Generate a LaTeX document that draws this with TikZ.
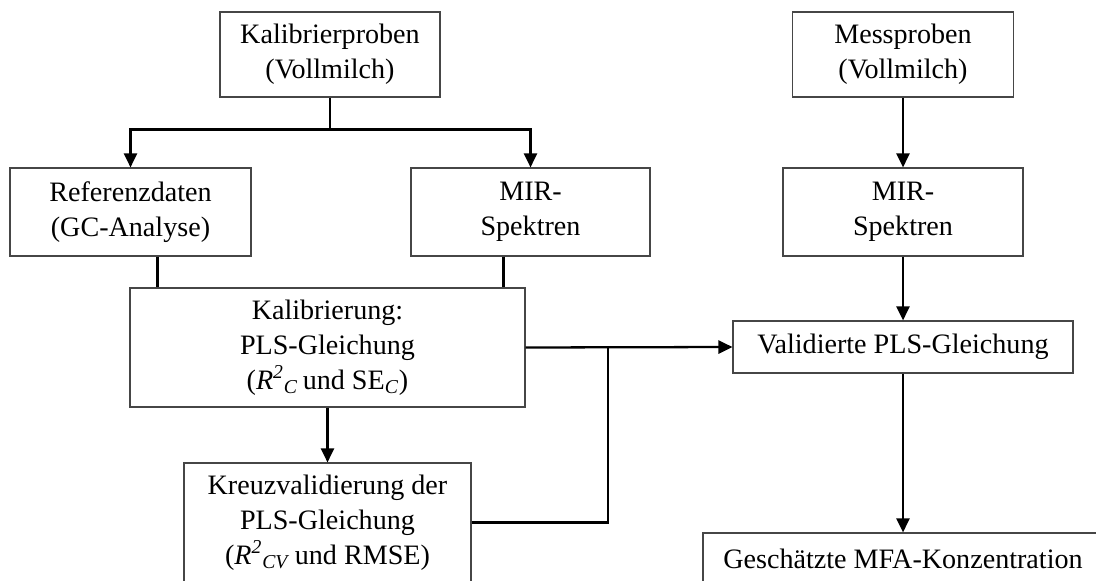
\documentclass[tikz,border=0pt]{standalone}
\usepackage{fontspec}
\setmainfont{Liberation Serif}
\usetikzlibrary{arrows.meta,positioning,calc}
\definecolor{boxGray}{RGB}{70,70,70}

\begin{document}
\begin{tikzpicture}[x=0.02cm,y=-0.02cm,
      box/.style={draw=boxGray,line width=0.7pt,align=center,inner sep=0pt,
        font=\fontsize{16}{20}\selectfont},
      ln/.style={line width=1.3pt},
      arr/.style={ln,-{Triangle[length=8pt,width=7.5pt]}}]
    \useasboundingbox (0,0) rectangle (1096,581);
    % upper row
    \node[box,minimum width=4.4cm,minimum height=1.7cm] (kalib) at (330,54.5)
      {Kalibrierproben\\(Vollmilch)};
    \node[box,minimum width=4.42cm,minimum height=1.7cm] (mess) at (903,54.5)
      {Messproben\\(Vollmilch)};
    \node[box,minimum width=4.82cm,minimum height=1.76cm] (ref) at (130.5,212)
      {Referenzdaten\\(GC-Analyse)};
    \node[box,minimum width=4.78cm,minimum height=1.76cm] (mirA) at (530.5,212)
      {MIR-\\Spektren};
    \node[box,minimum width=4.8cm,minimum height=1.76cm] (mirB) at (903,212)
      {MIR-\\Spektren};
    % lower part
    \node[box,minimum width=7.9cm,minimum height=2.38cm] (kal) at (327.5,347.5)
      {Kalibrierung:\\PLS-Gleichung\\(\textit{R}\textsuperscript{\textit{2}}\textsubscript{\textit{C}}\,und SE\textsubscript{\textit{C}})};
    \node[box,minimum width=5.74cm,minimum height=2.38cm] (kreuz) at (327.5,522.5)
      {Kreuzvalidierung der\\PLS-Gleichung\\(\textit{R}\textsuperscript{\textit{2}}\textsubscript{\textit{CV}}\,und RMSE)};
    \node[box,minimum width=6.8cm,minimum height=1.04cm] (valid) at (903,347)
      {Validierte PLS-Gleichung};
    \node[box,minimum width=8cm,minimum height=1.04cm] (gesch) at (903,559)
      {Geschätzte MFA-Konzentration};

    % connectors
    \draw[ln] (kalib.south) -- ++(0,32) coordinate (split);
    \draw[arr] (split) -| (ref.north);
    \draw[arr] (split) -| (mirA.north);
    \coordinate (refout) at ([xshift=0.54cm]ref.south);
    \coordinate (mirout) at ([xshift=-0.54cm]mirA.south);
    \draw[ln] (refout) -- (refout |- kal.north);
    \draw[ln] (mirout) -- (mirout |- kal.north);
    \draw[arr] (kal.south) -- (kreuz.north);
    \draw[arr] (kal.east) -- (valid.west);
    \coordinate (join) at ($(kal.east)!0.4!(valid.west)$);
    \draw[ln] (kreuz.east) -| (join);
    \draw[arr] (mess.south) -- (mirB.north);
    \draw[arr] (mirB.south) -- (valid.north);
    \draw[arr] (valid.south) -- (gesch.north);
  \end{tikzpicture}
\end{document}
